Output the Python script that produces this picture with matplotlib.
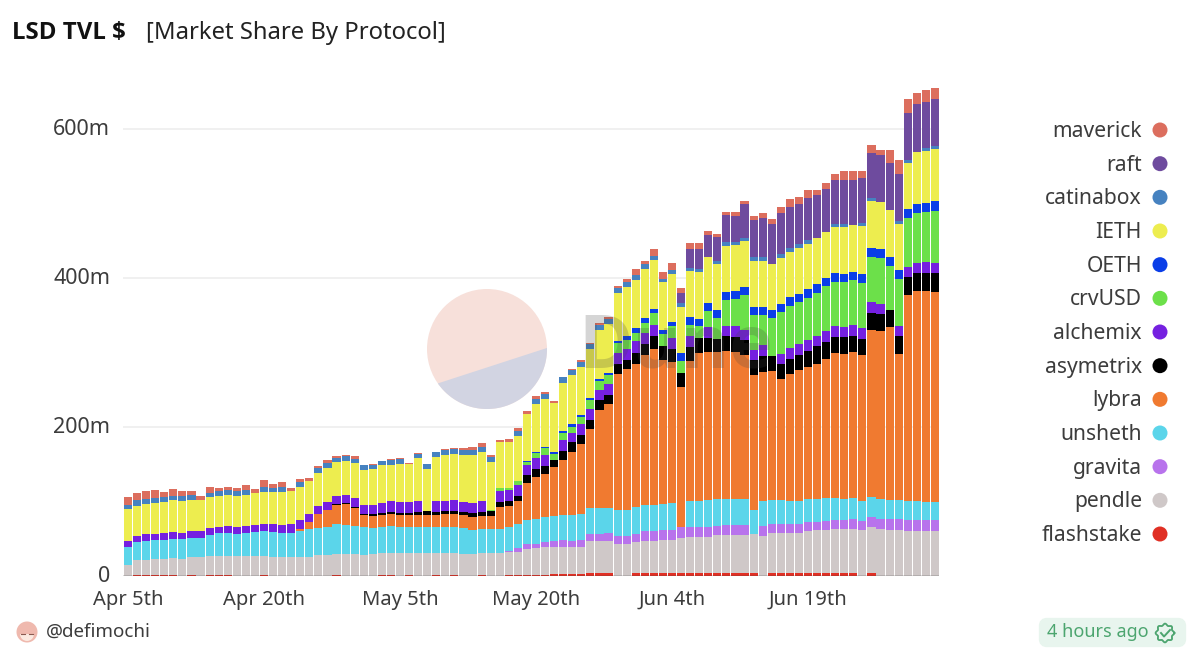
#!/usr/bin/env python3
import matplotlib

matplotlib.use("Agg")
import matplotlib.pyplot as plt
import numpy as np
from matplotlib.patches import Circle, FancyBboxPatch, Polygon, Wedge

plt.rcParams["font.family"] = ["Noto Sans", "DejaVu Sans"]

# values in $m, one entry per day from Apr 5th
flashstake = [
    0, .8, .8, .8, .8, .8, 0, .8, 0, .8,
    .8, .8, 0, 0, 0, .8, 0, 0, 0, 0,
    0, 0, 0, .8, 0, 0, 0, 0, .8, .8,
    0, .8, 0, 0, .8, 0, .8, 0, 0, .8,
    0, 0, 1, 1, 1.5, 2, 2, 2.5, 3, 3,
    3, 3.5, 3.5, 3.5, 0, 0, 3.5, 3.5, 3.5, 3.5,
    3.5, 3.5, 3.5, 3.5, 3.5, 3.5, 3.5, 3.5, 3.5, 3.5,
    0, 3.5, 3.5, 3.5, 3.5, 3.5, 3.5, 3.5, 3.5, 3.5,
    3.5, 0, 3.5, 0, 0, 0, 0, 0, 0, 0,
]
pendle = [
    14.8, 20.2, 21.2, 21.6, 22, 23.2, 22.8, 24.2, 25, 25.6,
    26, 26.5, 26.4, 26.4, 26.4, 26.5, 25.5, 25.5, 25.5, 25.5,
    26, 27.7, 28, 28.7, 30, 29, 28.6, 29, 29.6, 29.6,
    30.4, 29.6, 30.4, 30.4, 29.6, 30.4, 29.6, 29.5, 29, 29.6,
    30.4, 31.3, 31, 31.6, 35.2, 35.5, 37, 36.8, 36.3, 36.3,
    36.3, 43, 43, 43, 42.5, 42.5, 41.5, 43.5, 43.9, 44.8,
    44.8, 47, 48.4, 48.4, 49.2, 51, 51.9, 51.9, 51.9, 52.8,
    53.6, 54.5, 54.5, 54.5, 54.5, 56.8, 57.7, 58.2, 59.1, 59.1,
    60, 61.2, 61.8, 62.6, 61.7, 61.7, 60.8, 60.3, 59.9, 59.9,
]
gravita = [
    0, 0, 0, 0, 0, 0, 0, 0, 0, 0,
    0, 0, 0, 0, 0, 0, 0, 0, 0, 0,
    0, 0, 0, 0, 0, 0, 0, 0, 0, 0,
    0, 0, 0, 0, 0, 0, 0, 0, 0, 0,
    0, 0, 1.3, 4.5, 5.8, 5.4, 6.7, 8, 8.9, 8,
    8.9, 9.8, 9.8, 10.7, 10.7, 10.7, 12, 13, 13, 13.4,
    13.4, 15.6, 14.3, 14.3, 13.4, 13, 13, 13.4, 13, 0,
    13.9, 11.6, 11.6, 11.6, 11.6, 12.5, 11.6, 12, 12.5, 12.5,
    13, 12.5, 14.3, 13.9, 15.2, 14.8, 14.3, 14.8, 15.2, 15.2,
]
unsheth = [
    24.6, 24.6, 25.5, 26, 26, 25.5, 26.4, 26.4, 26.4, 28.6,
    30.4, 30.8, 30.4, 31.3, 33, 32.6, 33.5, 32.6, 32.6, 34.4,
    36.7, 36.7, 38, 39.8, 38.4, 38, 36.7, 35.8, 35.3, 36.7,
    34.9, 34.9, 35.8, 35.8, 35.8, 35.8, 35.8, 34.4, 32.6, 32.6,
    32.6, 31.3, 32.6, 32.2, 33, 33.5, 33.5, 33, 34, 34.9,
    34.4, 34.4, 34.9, 34.4, 35.3, 35.3, 35.8, 35.8, 34.9, 34.9,
    35.8, 0, 34.9, 34.9, 35.8, 35.3, 34.9, 34.4, 34.4, 32.2,
    33, 32.2, 32.2, 31.7, 30.8, 30.8, 30.8, 30.4, 30, 28,
    27.7, 27.3, 26.8, 27.3, 25.5, 25, 25, 25, 24.6, 24,
]
lybra = [
    0, 0, 0, 0, 0, 0, 0, 0, 0, 0,
    0, 0, 0, 0, 0, 0, 0, 0, 0, 3,
    9.4, 18.3, 22.8, 26, 28, 24, 16.5, 16, 16, 16,
    16.5, 16.5, 15.6, 15.6, 15.6, 17, 17, 17.9, 17.9, 17.9,
    17.9, 30.4, 28, 30.8, 49.6, 56.8, 57.7, 66, 74, 84,
    94, 106, 131, 139, 183, 189, 192, 201, 210, 194,
    189.5, 188, 187, 198.5, 198.5, 198, 199, 197.6, 193.6, 181,
    173.4, 174, 163, 170, 175.7, 177, 181.5, 187.7, 194.4, 195,
    196.7, 195, 224.4, 224.8, 231.5, 197, 277.6, 282, 283, 282.5,
]
asymetrix = [
    0, 0, 0, 0, 0, 0, 0, 0, 0, 0,
    0, 0, 0, 0, 0, 0, 0, 0, 0, 0,
    0, 0, 0, 1.3, 1.3, 1.8, 0.9, 2.7, 3, 3,
    3, 3, 3.6, 5, 3.6, 3.6, 3.6, 4, 5, 5.4,
    6.7, 7, 6.7, 7, 10.3, 10.3, 10.7, 9.8, 12, 13,
    12.5, 13, 13.4, 13, 12.5, 12.5, 15.2, 14.8, 17, 18.3,
    18.3, 18.8, 19.2, 19.2, 19.2, 17.9, 19.7, 20, 20, 20,
    21, 20, 20, 20, 20, 21, 23.7, 21.9, 21.5, 22.4,
    21.5, 22.4, 22.8, 22.8, 23.7, 23.2, 23.2, 24.6, 24, 25,
]
alchemix = [
    8, 8, 8.5, 8.5, 8.5, 9.4, 8.5, 8.5, 8.5, 8.9,
    8.5, 8.5, 8.5, 8.9, 8.9, 10.3, 10.3, 10.3, 11.2, 12,
    11.6, 11.6, 11.2, 10.3, 11.2, 11.6, 12.5, 12, 13.4, 14.8,
    13.9, 13.9, 14.8, 0, 15.2, 14.3, 15.2, 13.4, 13.4, 14.8,
    0, 13.9, 14.3, 14.8, 13.4, 14.3, 15.2, 0, 13.9, 13.4,
    14.8, 14.3, 14.3, 14.3, 14.8, 14.3, 14.8, 14.3, 14.8, 0,
    14.8, 0, 14.3, 0, 14.3, 0, 13.4, 14.3, 13.4, 13.4,
    14.8, 0, 13.4, 14.3, 14.8, 14.8, 13.4, 14.8, 14.3, 13.4,
    14.3, 14.3, 14.3, 14.3, 0, 13.4, 13.9, 13.9, 14.8, 13.4,
]
crvUSD = [
    0, 0, 0, 0, 0, 0, 0, 0, 0, 0,
    0, 0, 0, 0, 0, 0, 0, 0, 0, 0,
    0, 0, 0, 0, 0, 0, 0, 0, 0, 0,
    0, 0, 0, 0, 0, 0, 0, 0, 0, 0,
    1.5, 3.6, 3, 5.4, 4.5, 6.7, 8.5, 8, 10.3, 7.6,
    9.4, 11.6, 12.5, 11.6, 13.9, 12.5, 12, 13.4, 15.6, 15.6,
    15.2, 15.6, 15.6, 16.5, 21.9, 27.3, 34.9, 36.7, 47.4, 47.4,
    40.7, 50.5, 55.9, 57.2, 56.3, 56.8, 58, 60.3, 60, 60.3,
    60.3, 61.2, 60.3, 61.2, 59, 63.5, 66, 66.6, 66.6, 70,
]
OETH = [
    0, 0, 0, 0, 0, 0, 0, 0, 0, 0,
    0, 0, 0, 0, 0, 0, 0, 0, 0, 0,
    0, 0, 0, 0, 0, 0, 0, 0, 0, 0,
    0, 0, 0, 0, 0, 0, 0, 0, 0, 0,
    0, 0, 0, 0, 1.3, 2.2, 2.2, 2.2, 2.2, 3.6,
    2.2, 3, 2.2, 3, 2.2, 5.8, 6.7, 6.7, 6.3, 6.3,
    6.3, 10.3, 10.3, 9.8, 10.7, 10.7, 10.7, 10.7, 10.7, 10.7,
    10.7, 10.7, 11.2, 11.2, 11.6, 11.6, 11.2, 11.2, 11.6, 11.2,
    11.2, 11.6, 12, 11.6, 11.6, 11.6, 12, 12.5, 12.5, 13,
]
lETH = [
    42, 40.7, 40.7, 40.7, 41.6, 42.5, 42.5, 41.6, 41.6, 41.6,
    42, 42, 42.5, 42.5, 42.5, 43, 43, 44.3, 44.3, 44.7,
    43.8, 44.3, 45, 45.6, 45.6, 47.4, 47.4, 47.8, 50.5, 48.7,
    51, 52.3, 57.7, 57.2, 58.6, 61.2, 61.2, 63.5, 64.4, 65.7,
    64.4, 61.7, 62, 60.8, 63, 64.4, 64, 65.7, 64.8, 65.7,
    64.8, 66, 66, 66, 64.8, 64.8, 64.4, 66, 65.3, 64,
    63.5, 61.7, 62, 62.6, 61.7, 61.7, 62.6, 61.7, 61.2, 61.7,
    61.7, 61.7, 61.7, 60.8, 61.2, 61.2, 62.6, 61.7, 61.7, 62.6,
    63.5, 64, 63, 63.5, 63.5, 62, 61.2, 69.7, 69.7, 69.7,
]
catinabox = [
    6.3, 7.2, 7.2, 7.2, 6.7, 6.3, 6.7, 6.7, 0, 6.3,
    6.3, 6.7, 6.7, 6.3, 0, 6.7, 6.3, 6.3, 0, 6.3,
    0, 6.7, 6.7, 6.3, 6.7, 5.8, 6.3, 6.3, 5.4, 6.7,
    6.7, 0, 6.3, 6.3, 7.2, 7.2, 7.6, 6.7, 6.3, 5.8,
    5.8, 0, 0, 6.3, 0, 6.3, 6.3, 0, 7.2, 6.7,
    7.6, 6.7, 6.7, 6.7, 7.2, 6.7, 6.7, 6.7, 5.8, 4.5,
    6, 5.4, 4, 4, 0, 4.9, 4.5, 4, 4.9, 4.9,
    4.9, 0, 4.9, 4.9, 5.4, 4.5, 0, 0, 4.5, 4.5,
    0, 4, 4, 0, 0, 4.5, 4.5, 0, 4, 4.5,
]
raft = [
    0, 0, 0, 0, 0, 0, 0, 0, 0, 0,
    0, 0, 0, 0, 0, 0, 0, 0, 0, 0,
    0, 0, 0, 0, 0, 0, 0, 0, 0, 0,
    0, 0, 0, 0, 0, 0, 0, 0, 0, 0,
    0, 0, 0, 0, 0, 0, 0, 0, 0, 0,
    0, 0, 0, 0, 0, 0, 0, 0, 0, 0,
    0, 13.4, 25, 27.7, 29, 31.7, 36.2, 34.4, 44.7, 50.5,
    52.7, 53.2, 55, 55.9, 54, 57.2, 56.8, 58, 58, 59,
    60.3, 60.8, 61.2, 62.6, 63, 63, 63.5, 63.5, 62, 62.6,
]
maverick = [
    9.8, 9.8, 10.3, 10.7, 6.7, 8.5, 7.2, 6.3, 5.4, 8,
    4.5, 3.6, 3, 6.7, 5.8, 8.9, 4.5, 7.6, 4.9, 4.5,
    3.6, 3, 4, 2.7, 1.3, 3, 0.5, 0.5, 0, 0.9,
    2.2, 1.3, 0.5, 0, 0.5, 0.9, 0.9, 1.8, 4.5, 5.4,
    3, 3.6, 3.6, 4.9, 3.6, 3.6, 3, 3, 0.9, 2.2,
    2.7, 0.9, 2.2, 2.2, 2.2, 4.9, 8, 3.6, 8.9, 9.4,
    8.9, 7.2, 8, 7.6, 5.4, 4.5, 4.5, 6.3, 4.5, 4.9,
    7.2, 7.2, 8.9, 10.3, 8.9, 10.7, 7.6, 8, 8, 11.6,
    11.6, 9.8, 9.8, 7.6, 16.5, 19.2, 18.3, 15.6, 16.5, 15.6,
]

# bottom to top of the stack
series = [
    ("flashstake", flashstake, "#e02f24"),
    ("pendle", pendle, "#cfc8c8"),
    ("gravita", gravita, "#b873ec"),
    ("unsheth", unsheth, "#5bd5ea"),
    ("lybra", lybra, "#f07a30"),
    ("asymetrix", asymetrix, "#000000"),
    ("alchemix", alchemix, "#7520e0"),
    ("crvUSD", crvUSD, "#6ce04a"),
    ("OETH", OETH, "#0a3ee8"),
    ("IETH", lETH, "#eded4f"),
    ("catinabox", catinabox, "#4682c0"),
    ("raft", raft, "#6e4b9e"),
    ("maverick", maverick, "#dc6e5e"),
]

x_labels = ["Apr 5th", "Apr 20th", "May 5th", "May 20th", "Jun 4th", "Jun 19th"]
x_ticks = [0, 15, 30, 45, 60, 75]
y_ticks = [0, 200, 400, 600]
y_labels = ["0", "200m", "400m", "600m"]

TEXT = "#3c3c3c"

fig = plt.figure(figsize=(12, 6.64), dpi=100)
ax = fig.add_axes([123 / 1200, 1 - 576 / 664, 816 / 1200, 491 / 664])

days = np.arange(len(pendle))
bottom = np.zeros(len(days))
for name, values, color in series:
    ax.bar(days, values, bottom=bottom, width=0.9, color=color, linewidth=0, zorder=2)
    bottom += np.array(values)

ax.set_xlim(-0.55, 89.45)
ax.set_ylim(0, 491 / 0.745)
for s in ax.spines.values():
    s.set_visible(False)
ax.set_yticks(y_ticks[1:])
ax.set_yticklabels([])
ax.set_xticks(x_ticks)
ax.set_xticklabels([])
ax.tick_params(length=0)
ax.grid(axis="y", color="#eeeeee", linewidth=1.2, zorder=0)
ax.axhline(0, color="#444444", linewidth=1, zorder=3)

# overlay in image pixels for the labels, legend and watermark
ov = fig.add_axes([0, 0, 1, 1])
ov.set_xlim(0, 1200)
ov.set_ylim(664, 0)
ov.axis("off")
ov.patch.set_alpha(0)


def px_x(i):
    return 123 + 816 * (i + 0.55) / 90


def px_y(v):
    return 576 - 0.745 * v


for v, lab in zip(y_ticks, y_labels):
    ov.text(110, px_y(v) + 0.5, lab, ha="right", va="center", fontsize=15.5, color=TEXT)
for i, lab in zip(x_ticks, x_labels):
    ov.text(px_x(i), 600, lab, ha="center", va="center", fontsize=14.5, color=TEXT)

ov.text(12, 33, "LSD TVL $", fontsize=17.3, fontweight="bold", family="Open Sans",
        color="#111111", va="center")
ov.text(146, 33, "[Market Share By Protocol]", fontsize=17.2, color="#222222", va="center")

legend_y = np.linspace(130, 534, 13)
for (name, values, color), y in zip(series[::-1], legend_y):
    ov.text(1142, y + 1.5, name, ha="right", va="center", fontsize=15.2, color=TEXT)
    ov.add_patch(Circle((1160, y), 7.5, facecolor=color, edgecolor="none"))

# Dune watermark, the split is a straight chord that misses the centre
ov.add_patch(Circle((487, 349), 60, facecolor="#f7e0da", edgecolor="none", zorder=4))
arc = np.radians(np.linspace(-1, 145, 80))
ov.add_patch(Polygon(np.column_stack([487 + 60 * np.cos(arc), 349 + 60 * np.sin(arc)]),
                     closed=True, facecolor="#d2d4e2", edgecolor="none", zorder=4))
ov.text(578, 349, "Dune", fontsize=53, fontweight="bold", family="Open Sans", color="#444444",
        alpha=0.22, ha="left", va="center", zorder=4)

# footer
ov.add_patch(Circle((27, 632), 10.5, facecolor="#efb9ae", edgecolor="none"))
ov.add_patch(Wedge((27, 634), 7, 0, 180, facecolor="#fbe9e0", edgecolor="none"))
ov.plot([21, 25], [634, 634], color="#8a5a50", linewidth=0.8)
ov.plot([29, 33], [634, 634], color="#8a5a50", linewidth=0.8)
ov.text(46, 632, "@defimochi", fontsize=13.5, color=TEXT, va="center")

ov.add_patch(FancyBboxPatch((1043, 622), 139, 21, boxstyle="round,pad=0,rounding_size=4",
                            mutation_aspect=1, facecolor="#e8f5ee", edgecolor="#e8f5ee",
                            linewidth=6))
ov.text(1047, 632, "4 hours ago", fontsize=13, color="#4ca56f", va="center")
theta = np.linspace(0, 2 * np.pi, 200)
radius = 8.5 + 0.9 * np.cos(8 * theta)
ov.plot(1165 + radius * np.cos(theta), 633 + radius * np.sin(theta), color="#4ca56f", linewidth=1.3)
ov.plot([1161, 1164, 1170], [633, 636.5, 630], color="#4ca56f", linewidth=1.4)

fig.savefig("out.png", dpi=100)
